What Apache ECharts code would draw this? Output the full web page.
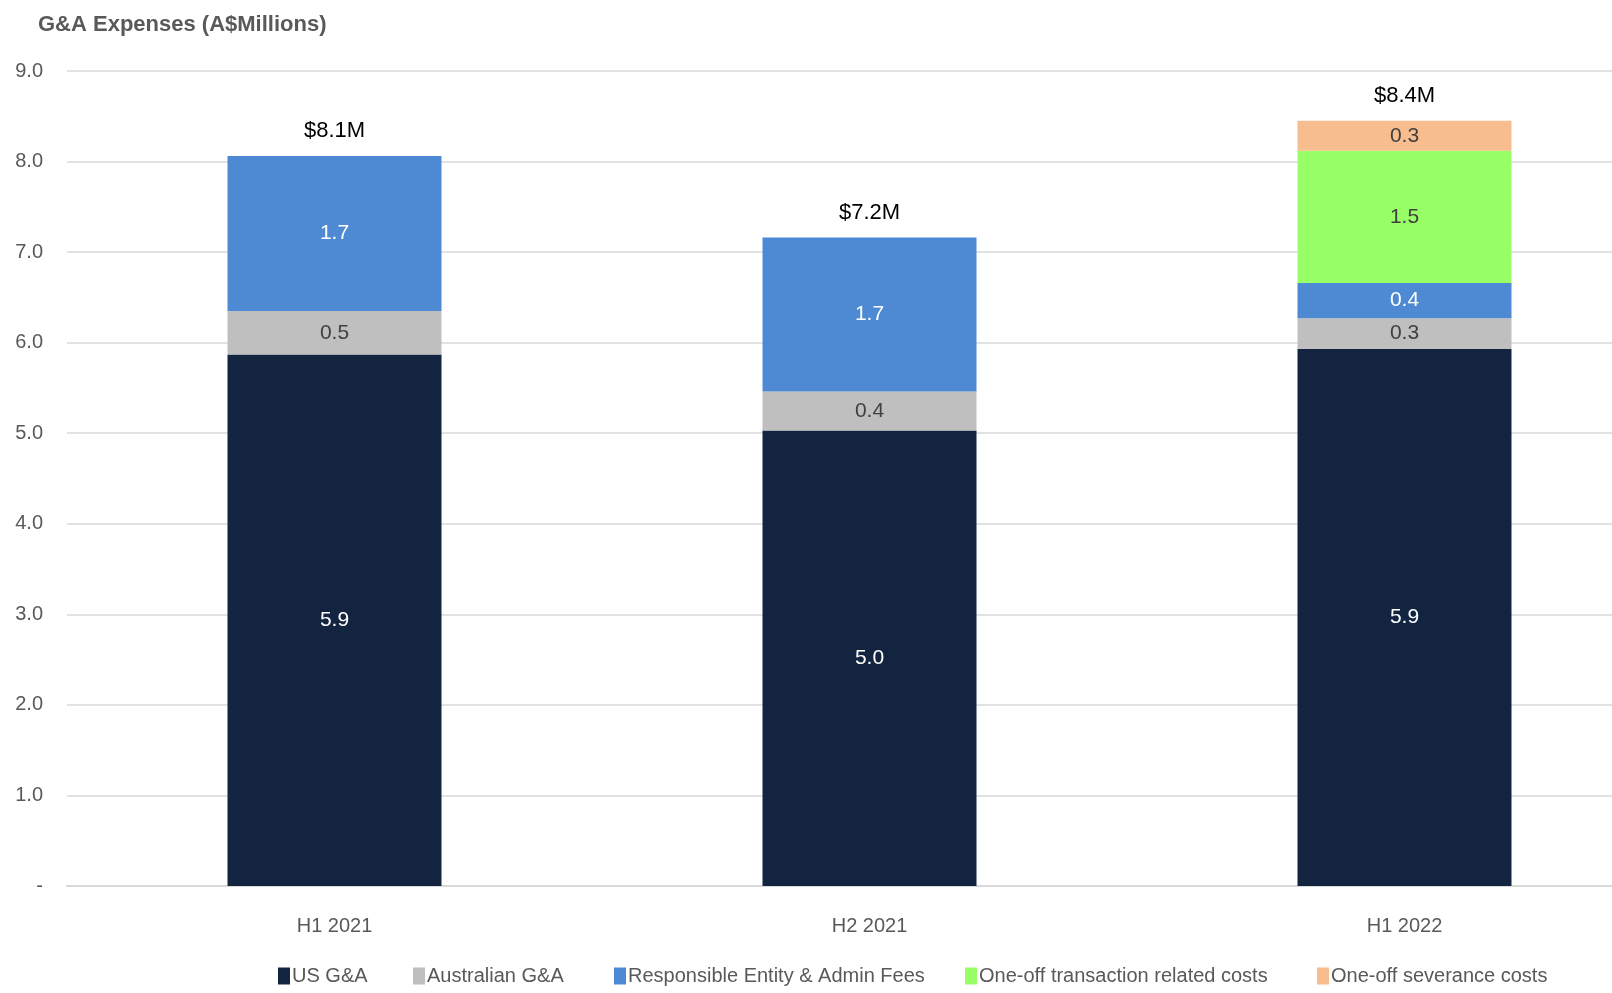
<!DOCTYPE html>
<html><head><meta charset="utf-8">
<script src="https://cdn.jsdelivr.net/npm/echarts@6/dist/echarts.min.js"></script>
<style>html,body{margin:0;padding:0;background:#fff}#c{width:1612px;height:993px}</style>
</head><body><div id="c"></div>
<script>
const categories = ['H1 2021', 'H2 2021', 'H1 2022'];
const usGA = [5.87, 5.03, 5.93];
const ausGA = [0.48, 0.43, 0.34];
const reFees = [1.71, 1.70, 0.39];
const oneOffTx = [null, null, 1.46];
const oneOffSev = [null, null, 0.33];
const yTicks = ['-', '1.0', '2.0', '3.0', '4.0', '5.0', '6.0', '7.0', '8.0', '9.0'];
const seriesNames = ['US G&A', 'Australian G&A', 'Responsible Entity & Admin Fees', 'One-off transaction related costs', 'One-off severance costs'];

const FONT = '"Liberation Sans",Arial,sans-serif';
const totals = categories.map((_, i) =>
  [usGA, ausGA, reFees, oneOffTx, oneOffSev].reduce((s, a) => s + (a[i] || 0), 0));

function seg(name, data, color, labelColor) {
  return {
    name, type: 'bar', stack: 'g', data, barWidth: '40%',
    itemStyle: { color },
    label: {
      show: true, position: 'inside', color: labelColor, fontFamily: FONT, fontSize: 21,
      formatter: p => (p.value == null ? '' : Number(p.value).toFixed(1))
    }
  };
}

const legendLefts = [278, 413, 614, 965, 1317];
const legends = seriesNames.map((n, i) => ({
  data: [n], left: legendLefts[i], top: 966, itemWidth: 12, itemHeight: 17, icon: 'rect',
  padding: 0, itemGap: 0,
  textStyle: { fontFamily: FONT, fontSize: 20, color: '#595959', padding: [0, 0, 0, -3] }
}));

const chart = echarts.init(document.getElementById('c'));
chart.setOption({
  animation: false,
  title: {
    text: 'G&A Expenses (A$Millions)', left: 33, top: 9,
    textStyle: { fontFamily: FONT, fontSize: 22, fontWeight: 'bold', color: '#595959' }
  },
  grid: { left: 67, right: -60, top: 71, bottom: 107, containLabel: false, outerBoundsMode: 'none' },
  legend: legends,
  xAxis: {
    type: 'category', data: categories,
    axisLine: { show: true, lineStyle: { color: '#d9d9d9', width: 2 } },
    axisTick: { show: false },
    axisLabel: { margin: 30, fontFamily: FONT, fontSize: 20, color: '#595959' }
  },
  yAxis: {
    type: 'value', min: 0, max: 9, interval: 1,
    axisLine: { show: false }, axisTick: { show: false },
    splitLine: { lineStyle: { color: '#d9d9d9', width: 1.5 } },
    axisLabel: {
      margin: 24, fontFamily: FONT, fontSize: 20, color: '#595959',
      formatter: v => yTicks[Math.round(v)]
    }
  },
  series: [
    seg(seriesNames[0], usGA, '#12243f', '#ffffff'),
    seg(seriesNames[1], ausGA, '#bfbfbf', '#404040'),
    seg(seriesNames[2], reFees, '#4e8ad4', '#ffffff'),
    seg(seriesNames[3], oneOffTx, '#99ff66', '#404040'),
    seg(seriesNames[4], oneOffSev, '#f8bd8f', '#404040'),
    {
      name: 'Total', type: 'bar', stack: 'g', data: categories.map(() => 0), barWidth: '40%',
      itemStyle: { color: 'transparent' },
      label: {
        show: true, position: 'top', distance: 14, color: '#000', fontFamily: FONT, fontSize: 22,
        formatter: p => '$' + totals[p.dataIndex].toFixed(1) + 'M'
      }
    }
  ]
});
</script></body></html>
